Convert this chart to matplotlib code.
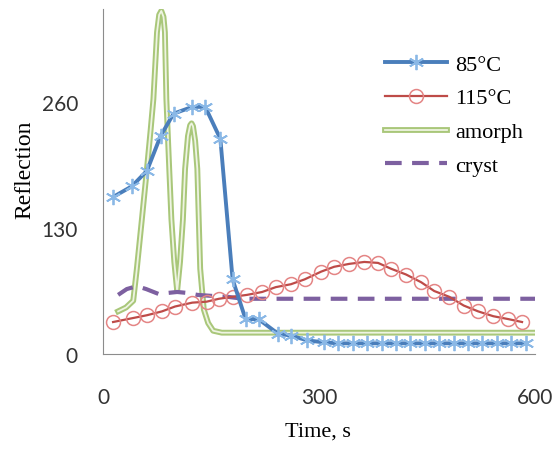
import matplotlib
matplotlib.use("Agg")
import matplotlib.pyplot as plt
import matplotlib.patheffects as pe

# 85 C series (star markers)
t_85 = [14, 40, 61, 80, 98, 124, 142, 163, 180, 198, 216, 243, 261, 284, 307,
        327, 347, 367, 387, 407, 427, 447, 467, 487, 507, 527, 547, 567, 587]
r_85 = [162, 173, 189, 225, 248, 255, 255, 222, 77, 36, 36, 21, 19, 14, 12,
        11, 11, 11, 11, 11, 11, 11, 11, 11, 11, 11, 11, 11, 11]

# 115 C series (circle markers)
t_115 = [14, 41, 61, 82, 100, 124, 144, 161, 180, 200, 221, 240, 261, 280, 303,
         321, 342, 363, 382, 400, 421, 442, 460, 481, 501, 521, 542, 563, 582]
r_115 = [33, 37, 40, 44, 49, 53, 54, 57, 59, 61, 64, 69, 72, 77, 85,
         90, 93, 95, 94, 88, 82, 74, 65, 59, 50, 44, 39, 36, 33]

# amorphous reference
t_am = [21, 32, 42, 47, 54, 61, 66, 70, 75, 78, 81, 84, 86, 88, 92, 95, 99, 103,
        107, 111, 114, 118, 121, 123, 125, 128, 131, 133, 135, 140, 146, 153, 165, 600]
r_am = [44, 48, 55, 88, 139, 191, 230, 263, 332, 350, 354, 348, 332, 263, 191, 139, 95, 65,
        95, 139, 191, 225, 236, 238, 235, 220, 191, 139, 88, 46, 32, 24, 22, 22]

# crystalline reference
t_cr = [21, 33, 47, 60, 77, 90, 103, 117, 131, 150, 173, 195, 600]
r_cr = [61, 67, 70, 67, 62, 63, 64, 63, 61, 60, 59, 57, 57]

xticks = [0, 300, 600]
yticks = [0, 130, 260]

W, H = 558, 452
fig = plt.figure(figsize=(W / 100, H / 100), dpi=100)
ax = fig.add_axes([103 / W, 1 - 355 / H, 432 / W, 345 / H])

ax.plot(t_am, r_am, color="#eef4e2", lw=1.3, label="amorph",
        path_effects=[pe.Stroke(linewidth=4.2, foreground="#a9c77a"), pe.Normal()])
ax.plot(t_cr, r_cr, color="#7d60a0", lw=3, dashes=(4, 2.5), label="cryst")
ax.plot(t_115, r_115, color="#be4b48", lw=1.6, marker="o", ms=10, mfc="none",
        mec="#e48585", mew=1.1, label="115°C")
ax.plot(t_85, r_85, color="#4a7ebb", lw=2.8, marker=(6, 2, 0), ms=11,
        mec="#8ab8e6", mew=1.3, label="85°C")

ax.set_xlim(0, 600)
ax.set_ylim(0, 356)
ax.set_xticks(xticks)
ax.set_yticks(yticks)
ax.tick_params(length=0, labelsize=15, colors="#333333")
ax.tick_params(axis="x", pad=24)
ax.tick_params(axis="y", pad=18)
for lab in ax.get_xticklabels() + ax.get_yticklabels():
    lab.set_fontfamily("Lato")
for s in ["top", "right"]:
    ax.spines[s].set_visible(False)
for s in ["left", "bottom"]:
    ax.spines[s].set_color("#8c8c8c")

fig.text(318 / W, 1 - 432 / H, "Time, s", family="Liberation Serif", fontsize=16,
         ha="center", va="center")
fig.text(25 / W, 1 - 170 / H, "Reflection", family="Liberation Serif", fontsize=17,
         rotation=90, ha="center", va="center")

handles, labels = ax.get_legend_handles_labels()
order = [3, 2, 0, 1]
fig.legend([handles[i] for i in order], [labels[i] for i in order],
           loc="upper left", bbox_to_anchor=(385 / W, 1 - 55 / H),
           frameon=False, borderpad=0, borderaxespad=0, handlelength=2.8,
           handletextpad=0.35, labelspacing=0.6, numpoints=1,
           prop={"family": "Liberation Serif", "size": 16})

fig.savefig("out.png", dpi=100)
